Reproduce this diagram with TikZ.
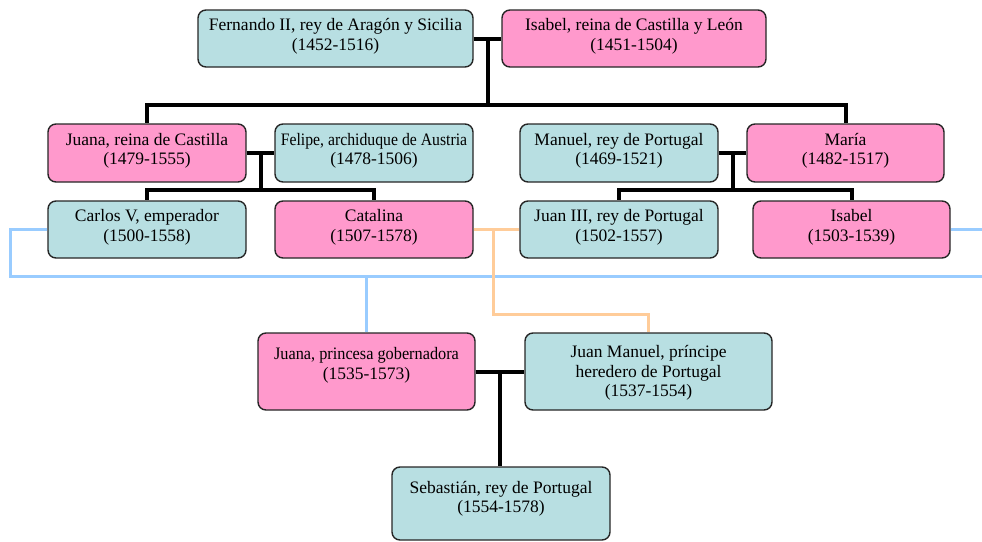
\documentclass[tikz,border=0pt]{standalone}
\usepackage{fontspec}
\setmainfont{Liberation Serif}
\usetikzlibrary{calc}
\definecolor{azulcaja}{RGB}{184,223,226}
\definecolor{rosacaja}{RGB}{255,153,204}
\definecolor{azullazo}{RGB}{153,204,255}
\definecolor{naranjalazo}{RGB}{255,204,153}
\begin{document}
\begin{tikzpicture}[x=1pt,y=-1pt,
	persona/.style={draw=black!85, line width=1.4pt, rounded corners=8pt, align=center, inner sep=0pt, text depth=8pt, font=\fontsize{17.5}{19.5}\selectfont},
	azul/.style={persona, fill=azulcaja},
	rosa/.style={persona, fill=rosacaja},
	lazo/.style={line width=4pt},
	lazoazul/.style={azullazo, line width=3pt},
	lazonaranja/.style={naranjalazo, line width=3pt}]
	\useasboundingbox (0,0) rectangle (982,541);
	\clip (0,0) rectangle (982,541);
	% primera generacion
	\node [azul, minimum width=275, minimum height=57] (fernando) at (335.5,38.5) {Fernando II, rey de Arag\'on y Sicilia\\(1452-1516)};
	\node [rosa, minimum width=264, minimum height=57] (isabel) at (634,38.5) {Isabel, reina de Castilla y Le\'on\\(1451-1504)};
	% segunda generacion
	\node [rosa, minimum width=198, minimum height=58] (juana) at (147,153) {Juana, reina de Castilla\\(1479-1555)};
	\node [azul, minimum width=198, minimum height=58] (felipe) at (374,153) {\scalebox{0.9}[1]{Felipe, archiduque de Austria}\\(1478-1506)};
	\node [azul, minimum width=198, minimum height=58] (manuel) at (619,153) {Manuel, rey de Portugal\\(1469-1521)};
	\node [rosa, minimum width=197, minimum height=58] (maria) at (845.5,153) {Mar\'ia\\(1482-1517)};
	% tercera generacion
	\node [azul, minimum width=198, minimum height=57] (carlos) at (147,229.5) {Carlos V, emperador\\(1500-1558)};
	\node [rosa, minimum width=198, minimum height=57] (catalina) at (374,229.5) {Catalina\\(1507-1578)};
	\node [azul, minimum width=198, minimum height=57] (juan3) at (619,229.5) {Juan III, rey de Portugal\\(1502-1557)};
	\node [rosa, minimum width=197, minimum height=57] (isabelp) at (851.5,229.5) {Isabel\\(1503-1539)};
	% cuarta y quinta generacion
	\node [rosa, minimum width=217, minimum height=77, text depth=16pt] (juanap) at (366.5,371.5) {\scalebox{0.93}[1]{Juana, princesa gobernadora}\\(1535-1573)};
	\node [azul, minimum width=247, minimum height=77, text depth=1pt] (juanman) at (648.5,371.5) {Juan Manuel, pr\'incipe\\heredero de Portugal\\(1537-1554)};
	\node [azul, minimum width=218, minimum height=73, text depth=13pt] (sebastian) at (501,503.5) {Sebasti\'an, rey de Portugal\\(1554-1578)};
	% lazos
	\coordinate (c1) at ($(fernando.east)!0.5!(isabel.west)$);
	\coordinate (c2) at ($(juana.east)!0.5!(felipe.west)$);
	\coordinate (c3) at ($(manuel.east)!0.5!(maria.west)$);
	\coordinate (c4) at ($(juanap.east)!0.5!(juanman.west)$);
	\draw [lazo] (fernando) -- (isabel);
	\draw [lazo] (c1) -- ++(0,66.5) coordinate (b1);
	\draw [lazo] (b1) -| (juana);
	\draw [lazo] (b1) -| (maria);
	\draw [lazo] (juana) -- (felipe);
	\draw [lazo] (c2) -- ++(0,37) coordinate (b2);
	\draw [lazo] (b2) -| (carlos);
	\draw [lazo] (b2) -| (catalina);
	\draw [lazo] (manuel) -- (maria);
	\draw [lazo] (c3) -- ++(0,37) coordinate (b3);
	\draw [lazo] (b3) -| (juan3);
	\draw [lazo] (b3) -| (isabelp);
	\draw [lazo] (juanap) -- (juanman);
	\draw [lazo] (c4) -- (c4 |- sebastian.north);
	% matrimonios entre primos
	\coordinate (azulcodo) at (10,276);
	\coordinate (azulfin) at (995,276);
	\draw [lazoazul] (carlos.west) -| (azulcodo) -- (azulfin) |- (isabelp.east);
	\draw [lazoazul] (juanap.north) -- (juanap.north |- azulcodo);
	\coordinate (naranjacodo) at (493,314);
	\draw [lazonaranja] (catalina.east) -- (juan3.west);
	\draw [lazonaranja] (catalina.east -| naranjacodo) -- (naranjacodo) -| (juanman);
\end{tikzpicture}
\end{document}
